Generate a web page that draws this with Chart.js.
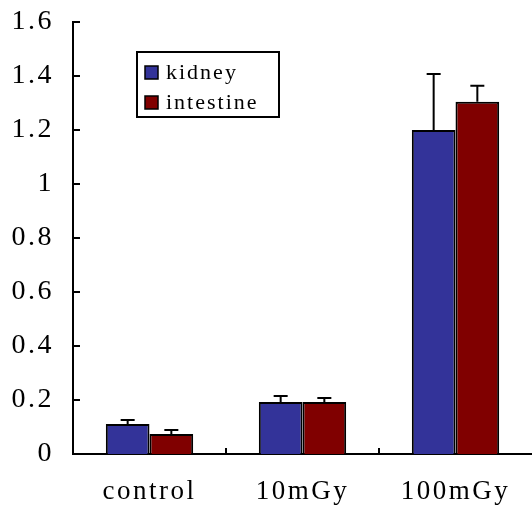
<!DOCTYPE html>
<html>
<head>
<meta charset="utf-8">
<script src="https://cdn.jsdelivr.net/npm/chart.js@4/dist/chart.umd.min.js"></script>
<style>
  html, body { margin: 0; padding: 0; background: #fff; }
  #wrap { width: 532px; height: 505px; }
</style>
</head>
<body>
<div id="wrap"><canvas id="chart" width="532" height="505"></canvas></div>
<script>
const categories = ['control', '10mGy', '100mGy'];
const seriesNames = ['kidney', 'intestine'];
const kidney = [0.111, 0.193, 1.2];
const intestine = [0.074, 0.193, 1.305];
const kidneyErr = [0.015, 0.022, 0.207];
const intestineErr = [0.015, 0.014, 0.059];
const yTicks = [0, 0.2, 0.4, 0.6, 0.8, 1, 1.2, 1.4, 1.6];

const FONT = '"Liberation Serif", serif';
const COLORS = { kidney: '#333399', intestine: '#800000' };

// wide letter spacing, like the original's half-width CJK font
const spacing = {
  id: 'spacing',
  beforeDraw(chart) { chart.ctx.letterSpacing = '2.5px'; },
};

// upward-only error bars with caps
const errorBars = {
  id: 'errorBars',
  afterDatasetsDraw(chart) {
    const { ctx, scales: { y } } = chart;
    ctx.save();
    ctx.strokeStyle = '#000';
    ctx.lineWidth = 2;
    chart.data.datasets.forEach((ds, i) => {
      chart.getDatasetMeta(i).data.forEach((bar, j) => {
        const top = y.getPixelForValue(ds.data[j] + ds.errors[j]);
        ctx.beginPath();
        ctx.moveTo(bar.x, bar.y);
        ctx.lineTo(bar.x, top);
        ctx.moveTo(bar.x - 7, top);
        ctx.lineTo(bar.x + 7, top);
        ctx.stroke();
      });
    });
    ctx.restore();
  }
};

// tick marks pointing into the plot
const innerTicks = {
  id: 'innerTicks',
  afterDraw(chart) {
    const { ctx, scales: { x, y } } = chart;
    ctx.save();
    ctx.strokeStyle = '#000';
    ctx.lineWidth = 2;
    ctx.beginPath();
    yTicks.forEach(v => {
      const py = y.getPixelForValue(v);
      ctx.moveTo(x.left, py);
      ctx.lineTo(x.left + 7, py);
    });
    categories.forEach((c, j) => {
      const px = x.getPixelForValue(j - 0.5);
      ctx.moveTo(px, y.bottom);
      ctx.lineTo(px, y.bottom - 6);
    });
    ctx.stroke();
    ctx.restore();
  }
};

// framed legend inside the plot
const boxLegend = {
  id: 'boxLegend',
  afterDraw(chart) {
    const { ctx } = chart;
    const bx = 137, by = 52, bw = 142, bh = 65;
    ctx.save();
    ctx.fillStyle = '#fff';
    ctx.fillRect(bx, by, bw, bh);
    ctx.strokeStyle = '#000';
    ctx.lineWidth = 2;
    ctx.strokeRect(bx, by, bw, bh);
    ctx.font = '22px ' + FONT;
    ctx.letterSpacing = '2px';
    ctx.textBaseline = 'middle';
    chart.data.datasets.forEach((ds, i) => {
      const cy = by + 20 + i * 30;
      ctx.fillStyle = ds.backgroundColor;
      ctx.fillRect(bx + 8, cy - 6, 13, 13);
      ctx.lineWidth = 1.5;
      ctx.strokeRect(bx + 8, cy - 6, 13, 13);
      ctx.fillStyle = '#000';
      ctx.fillText(ds.label, bx + 29, cy + 1);
    });
    ctx.restore();
  }
};

new Chart(document.getElementById('chart'), {
  type: 'bar',
  data: {
    labels: categories,
    datasets: [
      {
        label: seriesNames[0],
        data: kidney,
        errors: kidneyErr,
        backgroundColor: COLORS.kidney,
        borderColor: '#000',
        borderWidth: 2,
      },
      {
        label: seriesNames[1],
        data: intestine,
        errors: intestineErr,
        backgroundColor: COLORS.intestine,
        borderColor: '#000',
        borderWidth: 2,
      },
    ],
  },
  options: {
    responsive: false,
    animation: false,
    devicePixelRatio: 1,
    layout: { padding: { top: 22, left: 0, right: 0, bottom: 0 } },
    datasets: { bar: { categoryPercentage: 0.571, barPercentage: 1 } },
    plugins: {
      legend: { display: false },
      tooltip: { enabled: false },
    },
    scales: {
      x: {
        grid: { display: false, drawTicks: false },
        border: { display: true, color: '#000', width: 2 },
        ticks: { color: '#000', font: { family: FONT, size: 27 }, padding: 22 },
        afterFit: s => { s.height = 51; s.paddingLeft = 0; s.paddingRight = 0; },
      },
      y: {
        min: 0,
        max: 1.6,
        afterBuildTicks: s => { s.ticks = yTicks.map(v => ({ value: v })); },
        grid: { display: false, drawTicks: false },
        border: { display: true, color: '#000', width: 2 },
        ticks: {
          color: '#000',
          font: { family: FONT, size: 28 },
          padding: 19,
          callback: v => String(+v.toFixed(1)),
        },
        afterFit: s => { s.width = 73; s.paddingTop = 0; s.paddingBottom = 0; },
      },
    },
  },
  plugins: [spacing, errorBars, innerTicks, boxLegend],
});
</script>
</body>
</html>
